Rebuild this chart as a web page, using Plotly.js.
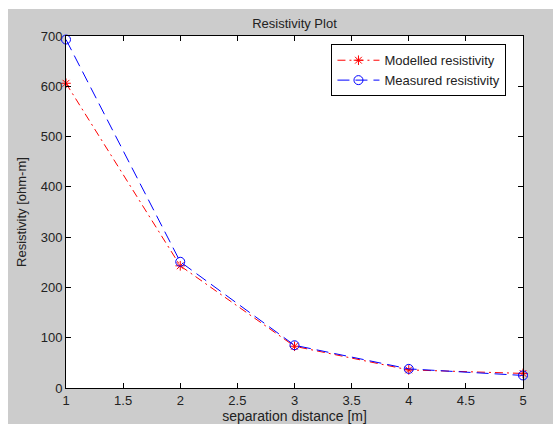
<!DOCTYPE html>
<html>
<head>
<meta charset="utf-8">
<script src="https://cdn.plot.ly/plotly-3.0.1.min.js"></script>
<style>
  html, body { margin: 0; padding: 0; background: #ffffff; }
  #chart { position: absolute; left: 8px; top: 9px; width: 545px; height: 415px; }
</style>
</head>
<body>
<div id="chart"></div>
<script>
// Data
const separation = [1, 2, 3, 4, 5];
const modelledResistivity = [606, 243, 83, 36, 29];
const measuredResistivity = [693, 251, 85, 38, 25];
const xTicks = [1, 1.5, 2, 2.5, 3, 3.5, 4, 4.5, 5];
const yTicks = [0, 100, 200, 300, 400, 500, 600, 700];

const font = 'Liberation Sans, Arial, sans-serif';
const txt = '#222222';

const traces = [
  {
    x: separation, y: modelledResistivity,
    name: 'Modelled resistivity',
    mode: 'lines+markers',
    line: { color: '#ff0000', width: 1, dash: '8px,4px,2px,4px' },
    marker: { symbol: 'asterisk-open', size: 8, color: '#ff0000', line: { color: '#ff0000', width: 1 } },
    cliponaxis: false
  },
  {
    x: separation, y: measuredResistivity,
    name: 'Measured resistivity',
    mode: 'lines+markers',
    line: { color: '#0000ff', width: 1, dash: '12px,6px' },
    marker: { symbol: 'circle-open', size: 9, color: '#0000ff', line: { color: '#0000ff', width: 1 } },
    cliponaxis: false
  }
];

const layout = {
  width: 545, height: 415,
  paper_bgcolor: '#cccccc',
  plot_bgcolor: '#ffffff',
  margin: { l: 57.5, r: 29.7, t: 27, b: 35.7, pad: 0 },
  font: { family: font, size: 13, color: txt },
  title: {
    text: 'Resistivity Plot',
    font: { family: font, size: 13, color: txt },
    x: 0.5, xref: 'paper', y: 0.966, yref: 'container', yanchor: 'middle'
  },
  showlegend: true,
  legend: {
    x: 0.9638, y: 0.9765, xanchor: 'right', yanchor: 'top',
    bgcolor: '#ffffff', bordercolor: '#000000', borderwidth: 1,
    font: { family: font, size: 13, color: txt },
    itemwidth: 42,
    tracegroupgap: 0
  },
  xaxis: {
    range: [1, 5],
    tickvals: xTicks,
    ticktext: xTicks.map(String),
    ticks: 'inside', ticklen: 5, tickcolor: '#000000', tickwidth: 1,
    showline: true, linecolor: '#000000', linewidth: 1, mirror: 'ticks',
    showgrid: false, zeroline: false,
    tickfont: { family: font, size: 13, color: txt },
    title: { text: 'separation distance [m]', standoff: 7, font: { family: font, size: 14, color: txt } },
    automargin: false
  },
  yaxis: {
    range: [0, 700],
    tickvals: yTicks,
    ticktext: yTicks.map(String),
    ticks: 'inside', ticklen: 5, tickcolor: '#000000', tickwidth: 1,
    showline: true, linecolor: '#000000', linewidth: 1, mirror: 'ticks',
    showgrid: false, zeroline: false,
    tickfont: { family: font, size: 13, color: txt },
    title: { text: 'Resistivity [ohm-m]', standoff: 11, font: { family: font, size: 13, color: txt } },
    automargin: false
  }
};

Plotly.newPlot('chart', traces, layout, { displayModeBar: false, staticPlot: true });
</script>
</body>
</html>
